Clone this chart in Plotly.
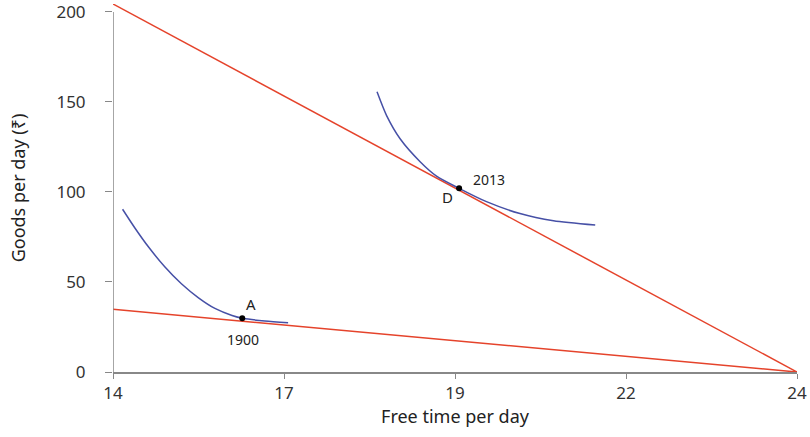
import plotly.graph_objects as go

# budget lines: free time (hours) vs goods per day
budget_x = [14, 24]
budget_1900 = [34.8, 0]
budget_2013 = [204.4, 0]

# indifference curves
ic_1900_x = [14.14, 14.32, 14.52, 14.76, 15.00, 15.25, 15.49, 15.74, 15.90, 16.22, 16.56]
ic_1900_y = [90.4, 80.0, 69.4, 58.3, 49.0, 41.2, 35.3, 31.4, 29.8, 28.3, 27.3]
ic_2013_x = [17.86, 18.00, 18.20, 18.49, 18.73, 19.06, 19.46, 19.95, 20.44, 21.05]
ic_2013_y = [155.6, 142.4, 129.4, 116.8, 108.8, 102.0, 94.6, 88.0, 84.0, 81.6]

# chosen points
point_names = ["A", "D"]
point_years = ["1900", "2013"]
point_x = [15.89, 19.06]
point_y = [29.8, 102.0]

tick_vals = [14, 16.5, 19, 21.5, 24]
tick_text = ["14", "17", "19", "22", "24"]

RED = "#e5432b"
BLUE = "#4650a6"
FONT = "Noto Sans"

fig = go.Figure()
fig.add_trace(go.Scatter(x=budget_x, y=budget_2013, mode="lines",
                         line=dict(color=RED, width=1.5)))
fig.add_trace(go.Scatter(x=budget_x, y=budget_1900, mode="lines",
                         line=dict(color=RED, width=1.5)))
fig.add_trace(go.Scatter(x=ic_1900_x, y=ic_1900_y, mode="lines",
                         line=dict(color=BLUE, width=1.5, shape="spline", smoothing=0.7)))
fig.add_trace(go.Scatter(x=ic_2013_x, y=ic_2013_y, mode="lines",
                         line=dict(color=BLUE, width=1.5, shape="spline", smoothing=0.7)))
fig.add_trace(go.Scatter(x=point_x, y=point_y, mode="markers",
                         marker=dict(color="black", size=6), cliponaxis=False))

# labels around the points
shifts = {"A": (9, 14), "D": (-12, -9)}
year_shifts = {"1900": (1, -21), "2013": (30, 9)}
for name, year, px, py in zip(point_names, point_years, point_x, point_y):
    fig.add_annotation(x=px, y=py, text=name, showarrow=False,
                       xshift=shifts[name][0], yshift=shifts[name][1],
                       font=dict(size=15, color="#222"))
    fig.add_annotation(x=px, y=py, text=year, showarrow=False,
                       xshift=year_shifts[year][0], yshift=year_shifts[year][1],
                       font=dict(size=14, color="#222"))

# y axis line only up to 200
fig.add_shape(type="line", x0=14, x1=14, y0=0, y1=200, xref="x", yref="y",
              line=dict(color="#888", width=1.5))

fig.update_xaxes(range=[14, 24], tickvals=tick_vals, ticktext=tick_text,
                 showgrid=False, zeroline=False, showline=True,
                 linecolor="#888", linewidth=1.5,
                 ticks="outside", ticklen=5, tickcolor="#888",
                 ticklabeloverflow="allow",
                 tickfont=dict(size=17, color="#333"),
                 title=dict(text="Free time per day", font=dict(size=18, color="#222"),
                            standoff=6))
fig.update_yaxes(range=[0, 204.4], tickvals=[0, 50, 100, 150, 200],
                 showgrid=False, zeroline=False, showline=False,
                 ticks="outside", ticklen=7, tickcolor="#888",
                 ticklabelstandoff=16, ticklabeloverflow="allow",
                 tickfont=dict(size=17, color="#333"),
                 title=dict(text="Goods per day (₹)", font=dict(size=18, color="#222"),
                            standoff=26))
fig.update_layout(width=810, height=437, showlegend=False,
                  plot_bgcolor="white", paper_bgcolor="white",
                  font=dict(family=FONT),
                  margin=dict(l=113, r=13, t=0, b=65))

fig.write_html("out.html", config={"displayModeBar": False},
               post_script="document.body.style.margin='0';")
